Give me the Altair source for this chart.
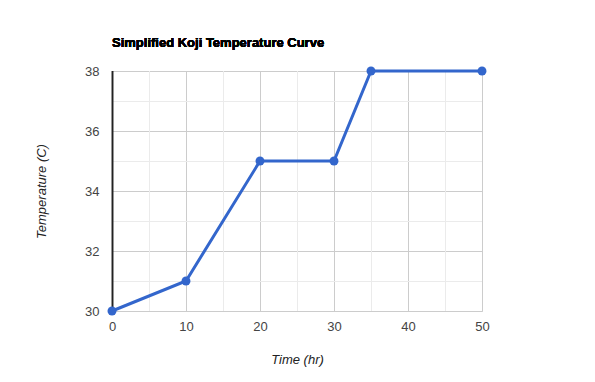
import altair as alt
import pandas as pd

time_hr = [0, 10, 20, 30, 35, 50]
temperature = [30, 31, 35, 35, 38, 38]
minor_x = [5, 15, 25, 35, 45]
minor_y = [31, 33, 35, 37]
x_ticks = [0, 10, 20, 30, 40, 50]
y_ticks = [30, 32, 34, 36, 38]

df = pd.DataFrame({"t": time_hr, "temp": temperature})
dmx = pd.DataFrame({"v": minor_x})
dmy = pd.DataFrame({"v": minor_y})

FONT = "Liberation Sans"
xs = alt.Scale(domain=[0, 50], nice=False, zero=False)
ys = alt.Scale(domain=[30, 38], nice=False, zero=False)

xaxis = alt.Axis(values=x_ticks, grid=True, gridColor="#cccccc", domain=False, ticks=False,
                 labelPadding=9, labelFontSize=13, labelColor="#444444", labelFont=FONT,
                 labelFlush=False, zindex=0,
                 title="Time (hr)", titleFont=FONT, titleFontSize=13, titleFontStyle="italic",
                 titleFontWeight="normal", titleColor="#222222", titleX=185, titleY=48,
                 titleBaseline="middle", titleAlign="center")
yaxis = alt.Axis(values=y_ticks, grid=True, gridColor="#cccccc", domain=False, ticks=False,
                 labelPadding=13, labelFontSize=13, labelColor="#444444", labelFont=FONT,
                 labelFlush=False, zindex=0,
                 title="Temperature (C)", titleFont=FONT, titleFontSize=13, titleFontStyle="italic",
                 titleFontWeight="normal", titleColor="#222222", titleX=-71, titleY=120,
                 titleAngle=-90, titleBaseline="middle", titleAlign="center")

base = alt.Chart(df).encode(
    x=alt.X("t:Q", scale=xs, axis=xaxis),
    y=alt.Y("temp:Q", scale=ys, axis=yaxis),
)
axes_layer = base.mark_point(opacity=0)

minx = alt.Chart(dmx).mark_rule(color="#ebebeb", strokeWidth=1, xOffset=0.5).encode(
    x=alt.X("v:Q", scale=xs, axis=xaxis), y=alt.value(0), y2=alt.value(240))
miny = alt.Chart(dmy).mark_rule(color="#ebebeb", strokeWidth=1, yOffset=0.5).encode(
    y=alt.Y("v:Q", scale=ys, axis=yaxis), x=alt.value(0), x2=alt.value(370))

line = base.mark_line(color="#3366cc", strokeWidth=3)
pts = base.mark_circle(color="#3366cc", size=80, opacity=1)

left_rule = alt.Chart(df).mark_rule(color="#222222", strokeWidth=1.2).encode(
    x=alt.value(0.5), y=alt.value(0), y2=alt.value(240.5))

title = alt.Chart(df).mark_text(
    text="Simplified Koji Temperature Curve", font=FONT, fontSize=13, fontWeight="bold",
    align="left", baseline="middle", color="#000000"
).encode(x=alt.value(0), y=alt.value(-28))

chart = alt.layer(axes_layer, minx, miny, left_rule, line, pts, title).properties(
    width=370, height=240,
    autosize=alt.AutoSizeParams(type="none"),
    padding={"left": 104, "top": 63, "right": 105, "bottom": 63},
).configure_view(stroke=None).configure(background="white")

chart.save("out.html", embed_options={"renderer": "svg", "actions": False})
